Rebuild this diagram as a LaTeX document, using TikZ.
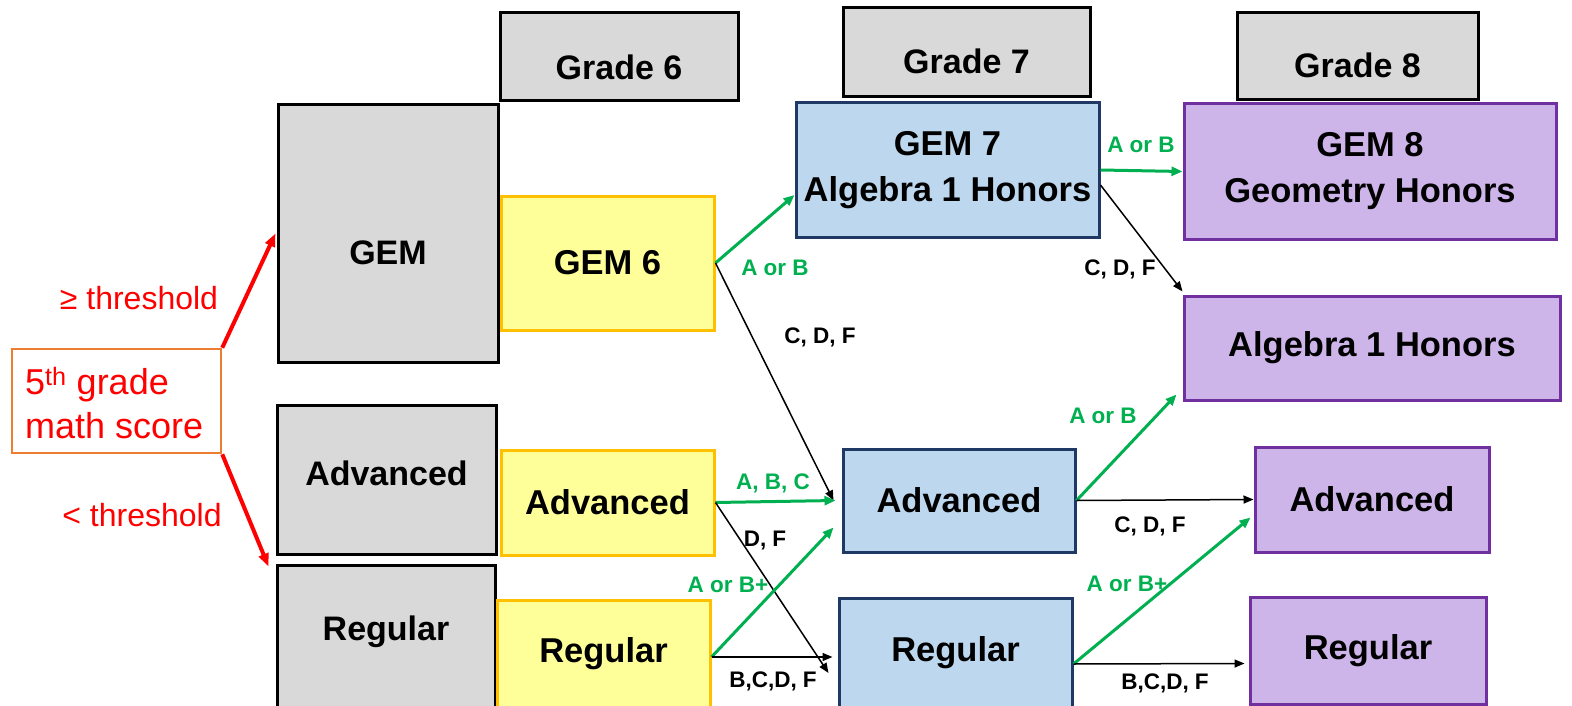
\documentclass[tikz,border=0pt]{standalone}
\usepackage{fontspec}
\setmainfont{Liberation Sans}
\usetikzlibrary{arrows.meta}
\definecolor{grayfill}{HTML}{D9D9D9}
\definecolor{yelfill}{HTML}{FFFF99}
\definecolor{yeldraw}{HTML}{FFC000}
\definecolor{bluefill}{HTML}{BDD7EE}
\definecolor{bluedraw}{HTML}{1F3864}
\definecolor{purfill}{HTML}{CDB5EA}
\definecolor{purdraw}{HTML}{7030A0}
\definecolor{grn}{HTML}{00B050}
\definecolor{orng}{HTML}{ED7D31}
\definecolor{redc}{HTML}{FF0000}
\tikzset{
  base/.style={rectangle, inner sep=0pt, font=\fontsize{34.5}{46}\selectfont\bfseries, align=center},
  graybox/.style={base, draw=black, fill=grayfill, line width=3pt},
  yelbox/.style={base, draw=yeldraw, fill=yelfill, line width=3pt},
  bluebox/.style={base, draw=bluedraw, fill=bluefill, line width=3pt},
  purbox/.style={base, draw=purdraw, fill=purfill, line width=3pt},
  txt/.style={font=\fontsize{34}{40}\selectfont\bfseries, align=center, inner sep=0pt},
  gar/.style={draw=grn, line width=3pt, -{Triangle[length=11pt,width=9pt]}},
  bar/.style={draw=black, line width=1.5pt, -{Triangle[length=10pt,width=8pt]}},
  rar/.style={draw=redc, line width=4pt, -{Triangle[length=13pt,width=10pt]}},
  glab/.style={text=grn, font=\fontsize{22.5}{26}\selectfont\bfseries, inner sep=0pt},
  blab/.style={text=black, font=\fontsize{22.5}{26}\selectfont\bfseries, inner sep=0pt},
  rlab/.style={text=redc, font=\fontsize{32}{36}\selectfont, inner sep=0pt},
}
\begin{document}
\begin{tikzpicture}[x=1pt,y=-1pt]
\useasboundingbox (0,0) rectangle (1572,706);
% grade headers
\node[graybox, minimum width=238pt, minimum height=88pt] (g6) at (619,57) {};
\node[txt] (g6t) at ([yshift=-10pt]g6.center) {Grade 6};
\node[graybox, minimum width=247pt, minimum height=89pt] (g7) at (966.5,52.5) {};
\node[txt] (g7t) at ([yshift=-9pt]g7.center) {Grade 7};
\node[graybox, minimum width=241pt, minimum height=87pt] (g8) at (1357.5,56.5) {};
\node[txt] (g8t) at ([yshift=-9pt]g8.center) {Grade 8};
% 5th grade
\node[rectangle, draw=orng, line width=2.5pt, minimum width=209pt, minimum height=104pt, inner sep=0pt] (fifth) at (116.5,401) {};
\node[text=redc, font=\fontsize{36}{44}\selectfont, align=left, anchor=west, inner sep=0pt] (fifthtxt) at (25,403) {5\textsuperscript{th} grade\\math score};
% gray tracks
\node[graybox, minimum width=220pt, minimum height=257pt] (gem) at (388,233.5) {};
\node[txt] (gemt) at ([yshift=-19pt]gem.center) {GEM};
\node[graybox, minimum width=219pt, minimum height=149pt] (advg) at (386.5,479.5) {};
\node[txt] (advgt) at ([yshift=6pt]advg.center) {Advanced};
\node[graybox, minimum width=218pt, minimum height=142pt] (regg) at (386,636) {};
\node[txt] (reggt) at ([yshift=4pt]regg.center) {Regular};
% grade 6
\node[yelbox, minimum width=213pt, minimum height=134pt] (gem6) at (607.5,263) {GEM 6};
\node[yelbox, minimum width=213pt, minimum height=105pt] (advy) at (607.5,502.5) {Advanced};
\node[yelbox, minimum width=213pt, minimum height=108pt] (regy) at (603.5,654) {Regular};
% grade 7
\node[bluebox, minimum width=303pt, minimum height=134pt] (gem7) at (947.5,170) {GEM 7\\Algebra 1 Honors};
\node[bluebox, minimum width=232pt, minimum height=103pt] (advb) at (959,500.5) {Advanced};
\node[bluebox, minimum width=233pt, minimum height=110pt] (regb) at (955.5,653) {Regular};
% grade 8
\node[purbox, minimum width=372pt, minimum height=135pt] (gem8) at (1370,171.5) {GEM 8\\Geometry Honors};
\node[purbox, minimum width=376pt, minimum height=104pt] (alg) at (1372,348) {Algebra 1 Honors};
\node[purbox, minimum width=234pt, minimum height=105pt] (advp) at (1372,499.5) {Advanced};
\node[purbox, minimum width=236pt, minimum height=107pt] (regp) at (1368,650.5) {Regular};
% red arrows
\draw[rar] (fifth.north east) -- ([xshift=-1pt]gem.west);
\draw[rar] (fifth.south east) -- ([xshift=-7pt,yshift=-3pt]regg.north west);
\node[rlab] (ge) at (139,298) {≥ threshold};
\node[rlab] (lt) at (142,515) {< threshold};
% grade 6 -> 7
\draw[gar] (gem6.east) -- ([yshift=-25pt]gem7.west);
\node[glab] (l1) at (775,268) {A or B};
\draw[bar] (gem6.east) -- ([xshift=-8pt]advb.west);
\node[blab] (l2) at (820,337) {C, D, F};
\draw[gar] (advy.east) -- ([xshift=-6pt]advb.west);
\node[glab] (l3) at (773,483) {A, B, C};
\draw[bar] (advy.east) -- ([xshift=-9pt,yshift=-20pt]regb.west);
\node[blab] (l4) at (765,540) {D, F};
\draw[gar] ([yshift=-3pt]regy.east) -- ([xshift=-8pt,yshift=-27pt]advb.west);
\node[glab] (l5) at (728,585) {A or B+};
\draw[bar] ([yshift=-3pt]regy.east) -- ([xshift=-5pt,yshift=-4pt]regb.west);
\node[blab] (l6) at (773,681) {B,C,D, F};
% grade 7 -> 8
\draw[gar] (gem7.east) -- (gem8.west);
\node[glab] (l7) at (1141,145) {A or B};
\draw[bar] ([yshift=-15pt]gem7.east) -- ([yshift=3pt]alg.north west);
\node[blab] (l8) at (1120,269) {C, D, F};
\draw[gar] (advb.east) -- ([xshift=-6pt,yshift=7pt]alg.south west);
\node[glab] (l9) at (1103,416) {A or B};
\draw[bar] (advb.east) -- (advp.west);
\node[blab] (l10) at (1150,526) {C, D, F};
\draw[gar] ([yshift=-11pt]regb.east) -- ([xshift=-3pt,yshift=-18pt]advp.west);
\node[glab] (l11) at (1127,584) {A or B+};
\draw[bar] ([yshift=-11pt]regb.east) -- ([xshift=-4pt,yshift=-13pt]regp.west);
\node[blab] (l12) at (1165,683) {B,C,D, F};
\end{tikzpicture}
\end{document}
